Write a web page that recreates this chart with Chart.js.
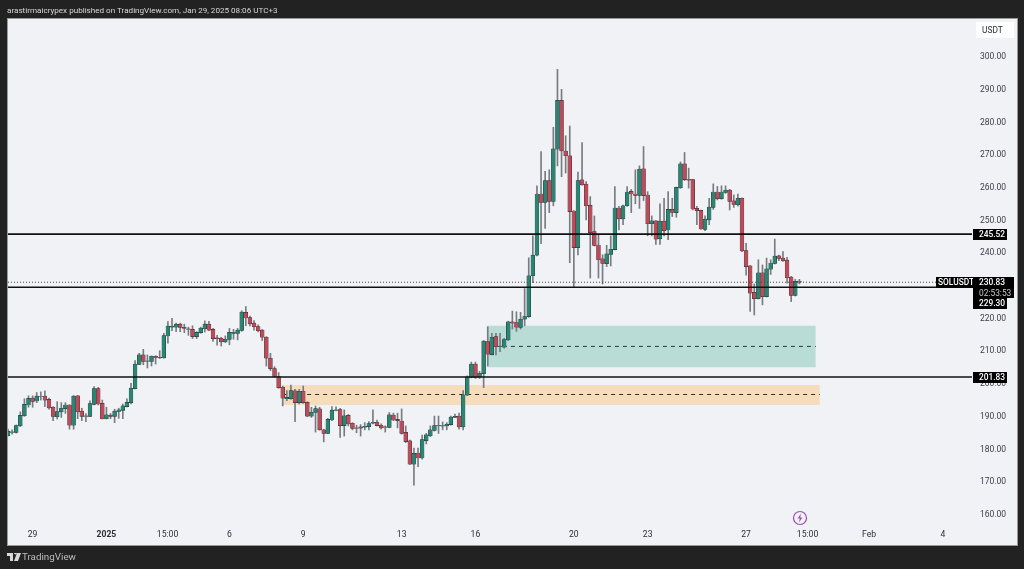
<!DOCTYPE html>
<html>
<head>
<meta charset="utf-8">
<title>SOLUSDT</title>
<script src="https://cdn.jsdelivr.net/npm/chart.js@4"></script>
<style>
  html, body { margin: 0; padding: 0; background: #222222; }
  body { width: 1024px; height: 569px; overflow: hidden; position: relative; font-family: Roboto, "Noto Sans", sans-serif; }
  #panel { position: absolute; left: 7px; top: 18px; width: 1009px; height: 526px; background: #f0f2f5; border: 1px solid #9a9a9a; }
  #chart { position: absolute; left: 0; top: 0; }
  #head { position: absolute; left: 7px; top: 3px; font-size: 8.1px; line-height: 14px; color: #d8d8d8; white-space: nowrap; }
  #foot { position: absolute; left: 22px; top: 550px; font-size: 9.8px; line-height: 14px; color: #bdbdbd; white-space: nowrap; }
  #logo { position: absolute; left: 7px; top: 553px; }
  #bolt { position: absolute; left: 792px; top: 510px; }
</style>
</head>
<body>
<div id="panel"></div>
<canvas id="chart" width="1024" height="569"></canvas>
<div id="head">arastirmaicrypex published on TradingView.com, Jan 29, 2025 08:06 UTC+3</div>
<svg id="logo" width="14" height="9" viewBox="0 0 14 9"><path d="M0 0h6v8H3V3H0zM10 0h4l-3 8H7z M7 0a1.4 1.4 0 1 0 2.8 0z" fill="#d8d8d8"/></svg>
<div id="foot">TradingView</div>
<svg id="bolt" width="16" height="16" viewBox="0 0 16 16"><circle cx="8" cy="8" r="6.5" fill="none" stroke="#9c4fb0" stroke-width="1.2"/><path d="M9 3.6 5.6 8.6h2.2L7 12.4l3.4-5H8.2z" fill="#9c4fb0"/></svg>

<script>
// 4h candles (oldest first)
const opens = [
  183.9,184.9,184.9,186.9,190.0,193.3,195.4,194.5,195.8,196.0,
  195.0,192.6,189.7,191.2,192.2,193.3,187.1,196.1,191.4,190.0,
  189.8,193.5,198.3,193.8,189.1,190.2,189.8,191.3,191.6,192.8,
  194.0,198.3,205.7,208.6,206.6,206.6,208.2,207.7,207.7,214.4,
  217.1,217.1,218.0,217.0,216.6,216.4,214.2,215.4,216.6,218.0,
  216.4,213.8,213.7,212.6,213.3,215.2,215.2,216.1,221.6,220.0,
  218.3,217.3,216.2,214.0,207.6,204.4,202.0,198.7,195.2,195.2,
  197.6,194.0,197.5,194.1,189.9,191.0,192.1,185.7,184.6,188.7,
  191.6,191.9,187.0,190.1,187.7,186.3,186.2,186.5,186.7,187.7,
  188.0,187.1,186.6,186.4,190.2,188.9,188.4,184.9,182.3,175.2,
  178.6,177.1,182.4,183.9,185.5,186.9,186.8,186.9,187.3,189.5,
  189.9,186.6,196.3,201.7,205.8,201.8,202.9,212.7,208.7,214.2,
  211.1,211.0,213.2,218.7,218.5,217.0,219.5,220.3,232.8,239.1,
  257.8,255.2,261.9,255.5,271.5,286.4,270.9,269.5,252.6,241.4,
  262.1,260.8,254.3,246.3,242.2,238.0,236.5,239.3,240.8,253.5,
  250.2,254.2,258.6,257.8,257.4,265.5,257.5,248.7,249.6,244.1,
  249.5,246.8,253.1,252.1,259.7,267.0,262.3,262.2,253.4,252.8,
  247.0,249.9,253.7,258.4,256.4,258.3,259.0,255.7,254.5,256.5,
  240.5,235.8,227.7,225.8,233.7,226.4,234.8,236.6,238.9,238.2,
  237.6,232.4,226.8,231.2
];
const closes = [
  185.2,185.1,187.0,190.1,193.5,195.3,194.4,196.0,195.9,194.8,
  192.4,189.8,191.3,192.3,193.3,187.1,196.0,191.2,189.8,189.8,
  193.7,198.3,193.6,189.1,190.3,189.8,191.4,191.8,193.0,194.1,
  198.4,205.8,208.6,206.6,206.8,208.2,207.8,207.9,214.5,217.4,
  217.4,218.0,217.0,216.7,216.4,214.2,215.5,216.8,218.0,216.2,
  213.6,213.6,212.6,213.4,215.5,215.5,216.2,221.7,219.9,218.1,
  217.2,216.0,214.0,207.6,204.4,202.0,198.6,195.4,195.6,197.7,
  194.0,197.5,194.0,189.9,191.1,192.2,185.7,184.6,188.9,191.7,
  191.8,187.0,190.0,187.5,186.1,186.1,186.6,186.8,187.6,188.0,
  187.0,186.3,186.4,190.3,188.7,188.5,184.6,182.1,175.2,178.5,
  177.1,182.7,184.2,185.7,187.0,187.1,187.0,187.4,189.6,189.8,
  186.6,196.4,201.8,205.8,201.7,203.0,212.8,208.8,214.0,211.1,
  211.3,213.3,218.7,218.3,217.1,219.5,220.3,232.8,239.1,257.8,
  255.2,261.9,255.5,271.6,286.4,271.0,269.5,252.4,241.4,261.9,
  260.6,254.2,246.0,242.1,237.7,236.6,239.5,240.9,253.5,250.2,
  254.2,258.4,257.8,257.4,265.4,257.3,248.7,249.6,244.0,249.5,
  246.6,253.1,252.2,259.8,267.0,262.2,262.0,253.2,252.7,247.1,
  250.1,253.8,258.4,256.4,258.4,259.0,255.5,254.6,256.5,240.4,
  235.6,227.5,225.8,233.7,226.4,234.9,236.7,238.8,238.1,237.4,
  232.2,226.8,231.1,230.83
];
const highs = [
  185.9,185.7,187.2,191.2,195.2,196.1,196.1,197.1,197.3,197.6,
  195.4,192.8,194.3,194.0,194.0,193.4,196.2,196.2,192.3,190.7,
  194.6,198.9,198.7,194.8,192.6,190.7,192.0,192.3,193.6,195.2,
  199.9,206.9,209.1,210.3,208.6,208.3,208.4,209.9,215.2,218.8,
  219.8,218.3,218.3,218.0,217.1,217.5,215.7,217.1,219.0,218.9,
  216.7,214.6,214.0,214.4,216.7,216.4,216.7,222.1,223.4,220.5,
  219.1,217.8,216.4,214.2,209.1,205.0,203.2,199.1,197.7,199.4,
  198.1,198.1,199.1,194.3,192.6,193.0,192.6,185.9,189.2,192.8,
  192.7,192.3,191.8,190.4,187.9,187.1,187.3,187.9,188.2,191.8,
  188.7,187.5,186.9,191.0,190.8,190.8,192.1,186.9,182.6,180.1,
  180.1,184.1,184.6,186.9,189.9,189.9,188.1,187.9,189.9,190.5,
  190.8,197.7,202.2,206.4,206.4,203.6,213.0,217.2,215.2,215.2,
  215.2,213.7,218.9,222.0,221.8,221.6,228.9,238.3,245.0,260.3,
  270.8,264.7,265.2,278.2,295.9,289.8,275.6,278.6,252.7,264.5,
  273.5,261.6,257.0,251.1,245.3,239.2,242.1,245.0,260.1,254.0,
  254.4,260.1,259.2,265.2,266.4,272.3,258.5,251.1,249.7,254.8,
  256.5,258.5,256.5,259.9,267.6,270.5,265.7,262.3,254.0,252.9,
  251.1,256.5,260.9,260.1,260.3,260.3,259.2,257.5,257.8,256.6,
  242.7,235.9,230.3,237.7,236.1,238.2,237.7,244.0,239.1,240.2,
  238.4,232.6,231.7,231.7
];
const lows = [
  183.8,184.4,184.7,186.7,189.8,192.6,192.6,194.0,194.8,192.8,
  192.0,188.5,189.0,189.5,190.7,185.9,185.9,189.1,188.5,188.2,
  189.7,193.3,193.3,189.0,189.0,189.1,187.9,189.2,189.1,192.7,
  193.6,198.2,205.6,205.6,204.6,205.2,205.8,207.5,207.6,212.2,
  216.0,215.7,215.7,215.4,214.6,213.6,213.6,215.2,215.6,216.0,
  212.7,211.6,211.3,212.4,211.7,213.4,213.2,215.8,217.5,217.5,
  216.2,215.6,213.0,205.2,203.8,201.8,198.4,193.0,194.6,195.0,
  188.2,193.6,193.8,189.7,189.5,185.0,185.6,182.0,184.5,188.5,
  191.5,183.4,183.8,186.9,185.7,184.8,183.8,185.7,185.7,187.5,
  186.9,185.9,185.0,186.3,188.5,186.3,184.4,181.8,175.1,168.8,
  174.4,176.7,181.4,183.6,185.3,184.6,185.7,185.7,187.1,189.4,
  185.9,185.7,196.2,201.6,201.4,201.4,198.6,205.2,208.6,208.6,
  209.6,210.7,213.0,216.5,215.8,216.5,217.5,220.1,230.7,238.9,
  242.6,247.3,252.1,254.2,266.4,263.1,264.2,236.8,229.3,239.2,
  260.5,249.9,232.1,241.9,232.1,230.3,235.6,235.8,240.7,246.8,
  248.4,254.0,252.1,254.8,253.4,255.8,245.0,245.0,242.4,242.4,
  245.0,243.8,250.9,250.7,259.5,261.9,259.6,252.9,248.4,247.0,
  246.6,248.4,253.1,256.0,256.2,258.0,252.9,253.7,254.1,240.2,
  233.0,221.9,220.8,225.7,223.9,226.3,233.2,236.4,237.4,237.2,
  230.5,224.9,226.6,230.3
];

// axis ticks
const priceTicks = [160,170,180,190,200,210,220,230,240,250,260,270,280,290,300];
const timeTickIndex = [6,24,38.9,54,72,96,114,138,156,180,195,210,228];
const timeTickLabels = ["29","2025","15:00","6","9","13","16","20","23","27","15:00","Feb","4"];

// drawn levels
const levelPrices = [245.52, 229.30, 201.83];
const lastPrice = 230.83;
const countdown = "02:53:53";
const symbol = "SOLUSDT";
const currency = "USDT";

// zones: [from candle, to candle]
const greenZoneX = [116.8, 197];
const greenZone = [204.8, 211.2, 217.5];   // bottom, middle, top
const orangeZoneX = [67.1, 198];
const orangeZone = [193.3, 196.5, 199.4];

const GREEN = "#2a8572";
const RED = "#bc4c5a";
const INK = "#20242c";
const FONT = "Roboto, 'Noto Sans', sans-serif";
const xMax = 235.1;

// -------------------------------
// Build datasets
// -------------------------------
function zoneFill(xs, bottom, top, color) {
  return {
    type: "line", order: 10, pointRadius: 0, borderWidth: 0,
    data: [{ x: xs[0], y: top }, { x: xs[1], y: top }],
    fill: { value: bottom }, backgroundColor: color
  };
}

function flatLine(xs, y, color, width, dash, order) {
  return {
    type: "line", order: order, pointRadius: 0, borderWidth: width,
    borderColor: color, borderDash: dash, fill: false,
    data: [{ x: xs[0], y: y }, { x: xs[1], y: y }]
  };
}

const wickData = highs.map((h, i) => ({ x: i, y: [lows[i], h] }));
const bodyData = opens.map((o, i) => ({ x: i, y: [o, closes[i]] }));
const bodyColors = opens.map((o, i) => (closes[i] >= o ? GREEN : RED));

const datasets = [
  zoneFill(greenZoneX, greenZone[0], greenZone[2], "#b9dcd6"),
  zoneFill(orangeZoneX, orangeZone[0], orangeZone[2], "#f5dcbc"),
  flatLine(greenZoneX, greenZone[1], "#2f3a3a", 1, [4, 4], 9),
  flatLine(orangeZoneX, orangeZone[1], "#3a3026", 1, [4, 4], 9),
  {
    type: "bar", order: 5, grouped: false, data: wickData,
    barThickness: 1, backgroundColor: "#787c80"
  },
  {
    type: "bar", order: 4, grouped: false, data: bodyData,
    barThickness: 3.8, backgroundColor: bodyColors,
    borderColor: INK, borderWidth: 0.4, borderSkipped: false
  },
  flatLine([0, xMax], levelPrices[0], "#111111", 1.6, [], 2),
  flatLine([0, xMax], levelPrices[1], "#111111", 1.6, [], 2),
  flatLine([0, xMax], levelPrices[2], "#111111", 1.6, [], 2),
  flatLine([0, xMax], lastPrice, "#444444", 1, [1, 2], 3)
];

// -------------------------------
// Price tags on the right axis
// -------------------------------
function tag(ctx, x, y, w, h, text, bg, color, pad) {
  ctx.fillStyle = bg;
  ctx.fillRect(x, y, w, h);
  ctx.fillStyle = color;
  ctx.fillText(text, x + pad, y + h / 2 + 0.5);
}

const tagsPlugin = {
  id: "tags",
  afterDraw(chart) {
    const ctx = chart.ctx;
    const yScale = chart.scales.y;
    const bold = "500 8.4px " + FONT;
    const plain = "8.4px " + FONT;
    ctx.save();
    ctx.textBaseline = "middle";
    ctx.textAlign = "left";
    ctx.font = bold;

    const lx = chart.chartArea.right + 1;
    [levelPrices[0], levelPrices[2]].forEach(p => {
      const py = Math.round(yScale.getPixelForValue(p));
      tag(ctx, lx, py - 5, 34, 11, p.toFixed(2), "#000000", "#ffffff", 6);
    });

    // last price block: the tag for the level below is pushed under it
    const ly = Math.round(yScale.getPixelForValue(lastPrice));
    tag(ctx, lx - 37, ly - 5, 37, 11, symbol, "#000000", "#ffffff", 2);
    tag(ctx, lx, ly - 5, 41, 11, lastPrice.toFixed(2), "#000000", "#ffffff", 6);
    ctx.font = plain;
    tag(ctx, lx, ly + 6, 41, 10, countdown, "#000000", "#c8c8c8", 6);
    ctx.font = bold;
    tag(ctx, lx, ly + 16, 34, 11, levelPrices[1].toFixed(2), "#000000", "#ffffff", 6);

    ctx.font = plain;
    tag(ctx, lx + 3, 22, 38, 16, currency, "#ffffff", "#2a2e39", 6);
    ctx.restore();
  }
};

// -------------------------------
// Chart
// -------------------------------
new Chart(document.getElementById("chart"), {
  type: "bar",
  data: { datasets: datasets },
  plugins: [tagsPlugin],
  options: {
    responsive: false,
    animation: false,
    layout: { padding: { left: 8, right: 7, top: 19, bottom: 24 } },
    plugins: { legend: { display: false }, tooltip: { enabled: false } },
    scales: {
      x: {
        type: "linear",
        min: 0,
        max: xMax,
        offset: false,
        grid: { display: false, drawTicks: false },
        border: { display: false },
        afterFit: s => { s.height = 20; },
        afterBuildTicks: s => { s.ticks = timeTickIndex.map(v => ({ value: v })); },
        ticks: {
          autoSkip: false,
          maxRotation: 0,
          padding: 5,
          color: "#2a2e39",
          font: ctx => ({ family: FONT, size: 8.6, weight: ctx.index === 1 ? "bold" : "normal" }),
          callback: (v, i) => timeTickLabels[i]
        }
      },
      y: {
        position: "right",
        min: 156.6,
        max: 311.3,
        grid: { display: false, drawTicks: false },
        border: { display: false },
        afterFit: s => { s.width = 45; },
        afterBuildTicks: s => { s.ticks = priceTicks.map(v => ({ value: v })); },
        ticks: {
          padding: 8,
          labelOffset: 1,
          color: "#3a3e48",
          font: { family: FONT, size: 8.5 },
          callback: v => v.toFixed(2)
        }
      }
    }
  }
});
</script>
</body>
</html>
